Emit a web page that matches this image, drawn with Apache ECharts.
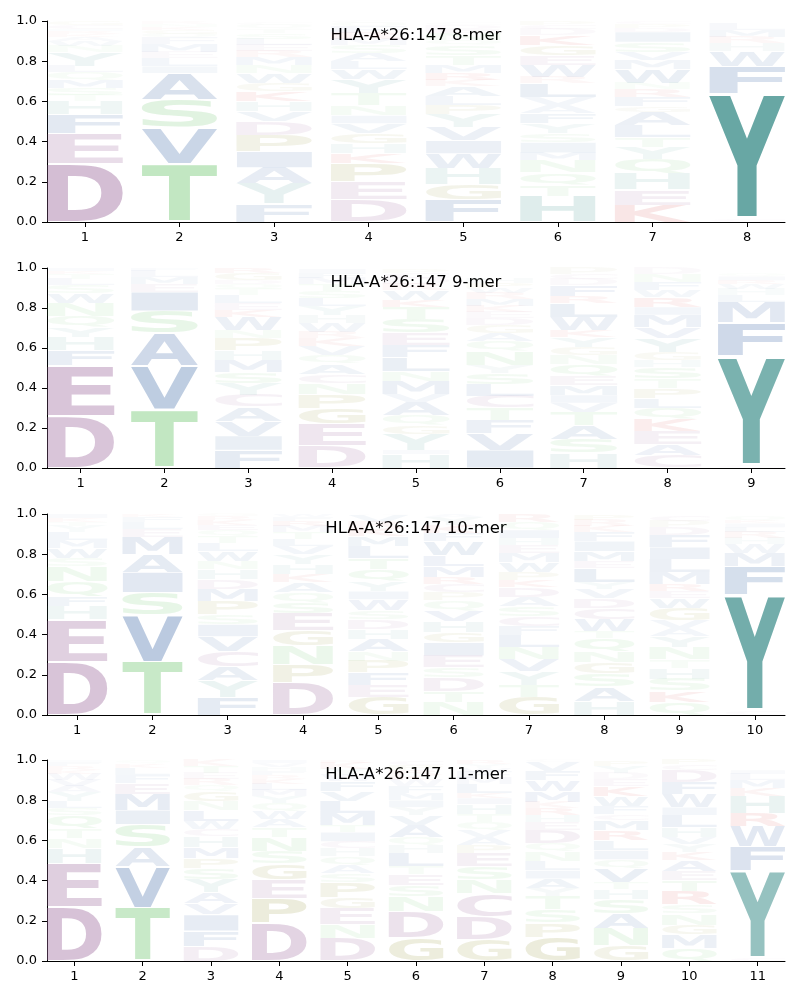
<!DOCTYPE html>
<html>
<head>
<meta charset="utf-8">
<script src="https://cdn.jsdelivr.net/npm/echarts@6/dist/echarts.min.js"></script>
<style>html,body{margin:0;padding:0;background:#fff}#c{width:800px;height:1000px}</style>
</head>
<body>
<div id="c"></div>
<script>
// ---------- data (letters bottom -> top, [letter, height]) ----------
const titles = ['HLA-A*26:147 8-mer', 'HLA-A*26:147 9-mer', 'HLA-A*26:147 10-mer', 'HLA-A*26:147 11-mer'];
const yTicks = [0, 0.2, 0.4, 0.6, 0.8, 1.0];

const mer8 = [
  [['D',.29],['E',.15],['F',.095],['H',.065],['T',.03],['S',.035],['M',.04],['Q',.04],['L',.03],['Y',.07],['N',.03],['W',.025],['A',.02],['K',.015],['R',.015],['I',.01],['C',.02],['G',.02]],
  [['T',.29],['V',.18],['S',.14],['A',.13],['I',.035],['L',.04],['E',.03],['M',.04],['F',.03],['Q',.02],['G',.02],['K',.015],['N',.015],['R',.01]],
  [['F',.09],['Y',.1],['A',.08],['I',.08],['P',.08],['D',.07],['V',.05],['H',.05],['K',.05],['G',.04],['W',.05],['N',.04],['M',.04],['R',.03],['E',.03],['L',.03],['S',.03],['T',.02],['Q',.02],['C',.01]],
  [['D',.11],['E',.09],['P',.09],['K',.05],['H',.05],['G',.05],['V',.05],['I',.04],['N',.05],['T',.06],['Y',.07],['W',.05],['L',.04],['A',.04],['S',.04],['M',.03],['R',.03],['F',.03],['Q',.02],['C',.01]],
  [['F',.11],['G',.075],['H',.08],['W',.075],['I',.065],['V',.065],['Y',.065],['P',.045],['L',.045],['A',.05],['K',.03],['R',.035],['M',.04],['T',.05],['S',.05],['Q',.025],['N',.035],['E',.02],['D',.02],['C',.01]],
  [['H',.13],['T',.055],['Q',.06],['N',.06],['M',.04],['I',.05],['S',.045],['Y',.05],['F',.05],['A',.04],['V',.04],['L',.07],['R',.03],['W',.06],['E',.05],['G',.05],['K',.05],['D',.03],['C',.02],['P',.02]],
  [['K',.085],['E',.075],['H',.08],['Q',.07],['Y',.06],['T',.05],['L',.06],['A',.065],['G',.03],['F',.045],['R',.04],['N',.03],['W',.07],['M',.045],['V',.04],['S',.05],['I',.05],['D',.02],['P',.02],['C',.015]],
  [['C',.015],['Y',.625],['F',.135],['W',.075],['H',.04],['R',.03],['M',.035],['L',.03]]
];

const mer9 = [
  [['D',.26],['E',.255],['F',.075],['H',.065],['Y',.05],['Q',.055],['N',.065],['W',.05],['S',.04],['L',.03],['T',.025],['K',.015],['I',.015]],
  [['T',.29],['V',.22],['A',.165],['S',.11],['I',.095],['E',.04],['M',.035],['L',.03],['F',.015]],
  [['F',.09],['I',.07],['V',.075],['A',.07],['C',.06],['Y',.06],['S',.055],['M',.06],['H',.05],['P',.06],['N',.04],['W',.065],['K',.035],['E',.035],['L',.04],['T',.03],['Q',.025],['D',.02],['G',.035],['R',.025]],
  [['D',.11],['E',.11],['G',.08],['P',.07],['N',.055],['C',.045],['A',.05],['Q',.045],['V',.045],['K',.04],['R',.03],['W',.045],['H',.04],['Y',.045],['L',.04],['S',.035],['T',.035],['M',.03],['F',.025],['I',.02]],
  [['H',.07],['I',.02],['Y',.08],['G',.045],['Q',.05],['A',.065],['V',.04],['M',.065],['N',.05],['L',.07],['F',.06],['E',.06],['S',.07],['T',.06],['K',.035],['W',.05],['R',.03],['D',.03],['C',.025],['P',.02]],
  [['I',.09],['V',.085],['F',.065],['T',.06],['C',.06],['L',.06],['S',.055],['Y',.04],['N',.07],['Q',.05],['A',.04],['G',.04],['D',.035],['E',.03],['K',.03],['M',.035],['R',.03],['W',.025],['P',.025],['H',.025]],
  [['H',.075],['S',.07],['A',.07],['T',.065],['V',.045],['I',.04],['M',.05],['E',.045],['Q',.06],['N',.045],['G',.04],['Y',.05],['K',.035],['W',.065],['L',.07],['R',.035],['F',.055],['D',.03],['C',.025],['P',.03]],
  [['C',.065],['A',.055],['E',.065],['K',.06],['Q',.055],['L',.05],['P',.05],['T',.05],['S',.055],['H',.035],['G',.04],['Y',.07],['V',.055],['M',.06],['I',.04],['R',.05],['W',.035],['F',.04],['N',.04],['D',.03]],
  [['C',.013],['Y',.55],['F',.165],['M',.1],['L',.035],['H',.03],['W',.025],['R',.02],['I',.02],['Q',.015]]
];

const mer10 = [
  [['D',.265],['E',.21],['H',.065],['F',.05],['Q',.075],['N',.075],['S',.04],['W',.05],['M',.04],['L',.04],['Y',.03],['T',.02],['K',.02],['I',.02]],
  [['T',.265],['V',.23],['S',.115],['I',.1],['A',.09],['M',.085],['E',.04],['L',.035],['F',.025],['K',.015]],
  [['F',.09],['Y',.08],['A',.07],['C',.075],['V',.075],['I',.06],['S',.05],['P',.065],['M',.06],['D',.05],['H',.05],['N',.04],['W',.05],['L',.04],['T',.035],['Q',.03],['E',.025],['K',.025],['R',.02],['G',.01]],
  [['D',.16],['P',.09],['N',.095],['G',.075],['E',.085],['S',.055],['Q',.05],['A',.05],['K',.04],['H',.05],['Y',.05],['V',.04],['L',.035],['T',.035],['M',.03],['R',.025],['F',.02],['W',.015]],
  [['G',.09],['E',.06],['F',.06],['P',.06],['N',.045],['A',.06],['H',.05],['D',.05],['S',.045],['W',.055],['I',.04],['Y',.05],['Q',.06],['T',.055],['L',.06],['M',.05],['K',.04],['R',.03],['V',.035],['C',.005]],
  [['N',.065],['T',.055],['D',.065],['S',.05],['E',.06],['I',.065],['G',.05],['H',.055],['V',.055],['Q',.05],['P',.04],['C',.04],['R',.035],['M',.055],['L',.055],['W',.07],['F',.04],['K',.04],['Y',.04],['A',.015]],
  [['G',.09],['T',.06],['Y',.065],['V',.06],['N',.06],['L',.06],['F',.045],['C',.05],['S',.05],['A',.045],['D',.05],['K',.035],['P',.04],['W',.05],['M',.045],['E',.04],['H',.035],['I',.04],['Q',.04],['R',.04]],
  [['H',.07],['A',.07],['S',.065],['G',.055],['N',.055],['Q',.065],['T',.035],['W',.06],['C',.055],['D',.05],['V',.045],['Y',.035],['L',.07],['E',.035],['M',.05],['I',.05],['F',.045],['K',.03],['R',.03],['P',.025]],
  [['Q',.065],['K',.055],['S',.06],['H',.055],['T',.04],['N',.06],['Y',.055],['A',.04],['V',.04],['G',.06],['W',.05],['E',.035],['R',.035],['M',.06],['L',.065],['I',.06],['F',.06],['D',.04],['P',.03],['C',.025]],
  [['C',.018],['Y',.58],['F',.14],['M',.065],['W',.045],['H',.03],['R',.03],['L',.025],['I',.02],['K',.015],['Q',.02]]
];

const mer11 = [
  [['D',.27],['E',.215],['H',.075],['N',.05],['T',.05],['Q',.065],['S',.035],['L',.035],['Y',.045],['A',.03],['V',.03],['W',.03],['K',.02],['R',.02],['F',.02],['I',.01]],
  [['T',.265],['V',.205],['A',.095],['S',.115],['I',.07],['M',.08],['E',.055],['F',.04],['L',.035],['K',.02],['Q',.015]],
  [['D',.075],['F',.075],['I',.08],['V',.055],['A',.055],['Y',.065],['S',.055],['P',.05],['M',.055],['H',.055],['C',.035],['W',.04],['L',.055],['N',.045],['G',.05],['Q',.03],['R',.03],['E',.03],['T',.035],['K',.03]],
  [['D',.19],['P',.12],['E',.095],['G',.08],['S',.06],['N',.07],['T',.05],['A',.04],['W',.04],['Q',.04],['Y',.035],['M',.03],['L',.03],['K',.025],['R',.02],['F',.02],['H',.02],['V',.02],['I',.015]],
  [['D',.115],['N',.065],['E',.08],['G',.055],['P',.075],['S',.045],['A',.04],['Q',.045],['H',.04],['C',.035],['I',.045],['T',.035],['M',.06],['L',.06],['V',.05],['F',.05],['W',.03],['Y',.03],['K',.03],['R',.015]],
  [['G',.115],['D',.13],['N',.075],['S',.055],['E',.055],['T',.04],['L',.065],['H',.04],['Q',.04],['A',.06],['V',.05],['Y',.04],['I',.035],['M',.035],['F',.035],['W',.03],['K',.025],['R',.025],['P',.025],['C',.02]],
  [['G',.105],['D',.115],['C',.115],['N',.07],['S',.065],['E',.065],['P',.04],['A',.04],['V',.035],['Q',.04],['T',.04],['H',.05],['I',.03],['K',.025],['L',.045],['M',.03],['F',.03],['W',.02],['Y',.02],['R',.02]],
  [['G',.12],['P',.07],['S',.065],['T',.065],['Y',.04],['A',.05],['I',.04],['L',.045],['N',.05],['Q',.04],['D',.065],['E',.04],['H',.035],['R',.035],['K',.03],['M',.055],['W',.055],['F',.045],['V',.045],['C',.01]],
  [['G',.075],['N',.085],['A',.075],['S',.07],['H',.05],['T',.035],['V',.07],['Q',.045],['I',.045],['L',.05],['R',.05],['M',.05],['C',.03],['F',.04],['W',.05],['K',.05],['E',.035],['D',.03],['Y',.035],['P',.025]],
  [['Q',.065],['M',.065],['G',.05],['N',.055],['S',.045],['R',.065],['T',.055],['E',.045],['A',.055],['K',.04],['Y',.04],['V',.035],['H',.05],['L',.06],['I',.04],['W',.065],['F',.06],['D',.06],['C',.03],['P',.025]],
  [['C',.015],['Y',.435],['F',.12],['W',.1],['R',.065],['H',.085],['K',.04],['M',.04],['L',.03],['I',.02]]
];

const panels = [mer8, mer9, mer10, mer11];

// ---------- styles ----------
const groupColor = {
  acidic: [156, 105, 156],
  polar: [115, 200, 115],
  special: [150, 150, 60],
  hydrophobic: [59, 102, 165],
  aromatic: [94, 161, 158],
  basic: [210, 60, 60]
};
const letterGroup = {
  D:'acidic', E:'acidic', C:'acidic',
  S:'polar', T:'polar', N:'polar', Q:'polar',
  G:'special', P:'special',
  A:'hydrophobic', V:'hydrophobic', I:'hydrophobic', L:'hydrophobic', M:'hydrophobic', F:'hydrophobic', W:'hydrophobic',
  Y:'aromatic', H:'aromatic',
  K:'basic', R:'basic'
};
const ALPHA_SCALE = 1.5;
const COL_WIDTH = 0.8;
const X_PAD = 0.4;
const VPAD = 0.05;
const gridTops = [21, 268, 514, 760];
const gridHeights = [201, 200, 201, 201];
const GRID_LEFT = 47, GRID_RIGHT = 15;

const FONT_PX = 200;
const FONT = 'bold ' + FONT_PX + 'px "DejaVu Sans"';
const mctx = document.createElement('canvas').getContext('2d');
const glyphCache = {};
function glyph(ch) {
  if (glyphCache[ch]) return glyphCache[ch];
  mctx.font = FONT;
  mctx.textAlign = 'left';
  mctx.textBaseline = 'middle';
  const m = mctx.measureText(ch);
  const g = { l: m.actualBoundingBoxLeft, r: m.actualBoundingBoxRight, a: m.actualBoundingBoxAscent, d: m.actualBoundingBoxDescent };
  glyphCache[ch] = g;
  return g;
}
function letterFill(ch, h) {
  const c = groupColor[letterGroup[ch]];
  const a = Math.min(1, ALPHA_SCALE * h);
  return 'rgba(' + c[0] + ',' + c[1] + ',' + c[2] + ',' + a.toFixed(3) + ')';
}

function buildSeries(cols, idx) {
  const items = [];
  const letters = [];
  cols.forEach((col, p) => {
    let base = 0;
    col.forEach(([ch, h]) => {
      items.push([p + 1, base, base + h, h]);
      letters.push(ch);
      base += h;
    });
  });
  return {
    type: 'custom',
    xAxisIndex: idx,
    yAxisIndex: idx,
    coordinateSystem: 'cartesian2d',
    silent: true,
    encode: { x: 0, y: [1, 2] },
    data: items,
    renderItem: function (params, api) {
      const p = api.value(0), y0 = api.value(1), y1 = api.value(2), h = api.value(3);
      const ch = letters[params.dataIndex];
      const pad = VPAD * (y1 - y0) / 2;
      const unit = api.size([1, 0])[0];
      const c = api.coord([p, y0 + pad]);
      const top = api.coord([p, y1 - pad])[1];
      const bot = c[1];
      const w = unit * COL_WIDTH;
      const x0 = c[0] - w / 2;
      const g = glyph(ch);
      const sx = w / (g.l + g.r);
      const sy = (bot - top) / (g.a + g.d);
      if (!(sy > 0)) return null;
      return {
        type: 'text',
        x: x0 + g.l * sx,
        y: top + g.a * sy,
        scaleX: sx,
        scaleY: sy,
        silent: true,
        style: {
          text: ch,
          font: FONT,
          fill: letterFill(ch, h),
          align: 'left',
          verticalAlign: 'middle'
        }
      };
    }
  };
}

const axisLineStyle = { color: '#000', width: 1 };
const labelStyle = { color: '#000', fontSize: 13, fontFamily: 'DejaVu Sans' };

const option = {
  animation: false,
  backgroundColor: '#fff',
  grid: panels.map((_, i) => ({ left: GRID_LEFT, right: GRID_RIGHT, top: gridTops[i], height: gridHeights[i] })),
  xAxis: panels.map((cols, i) => {
    const positions = cols.map((_, k) => k + 1);
    return {
      type: 'value',
      gridIndex: i,
      min: 1 - X_PAD,
      max: cols.length + X_PAD,
      axisLine: { show: true, onZero: false, lineStyle: axisLineStyle },
      axisTick: { show: true, length: 5, lineStyle: axisLineStyle, customValues: positions },
      axisLabel: Object.assign({ margin: 9, customValues: positions, formatter: v => String(v), showMinLabel: true, showMaxLabel: true, hideOverlap: false }, labelStyle),
      splitLine: { show: false }
    };
  }),
  yAxis: panels.map((_, i) => ({
    type: 'value',
    gridIndex: i,
    min: yTicks[0],
    max: yTicks[yTicks.length - 1],
    interval: 0.2,
    axisLine: { show: true, lineStyle: axisLineStyle },
    axisTick: { show: true, length: 5, lineStyle: axisLineStyle },
    axisLabel: Object.assign({ margin: 10, formatter: v => v.toFixed(1) }, labelStyle),
    splitLine: { show: false }
  })),
  graphic: titles.map((t, i) => ({
    type: 'text',
    x: (GRID_LEFT + 800 - GRID_RIGHT) / 2,
    y: gridTops[i] + 15,
    silent: true,
    style: { text: t, font: '16.5px "DejaVu Sans"', fill: '#000', align: 'center', verticalAlign: 'middle' }
  })),
  series: panels.map((cols, i) => buildSeries(cols, i))
};

const chart = echarts.init(document.getElementById('c'), null, { renderer: 'canvas' });
chart.setOption(option);
</script>
</body>
</html>
